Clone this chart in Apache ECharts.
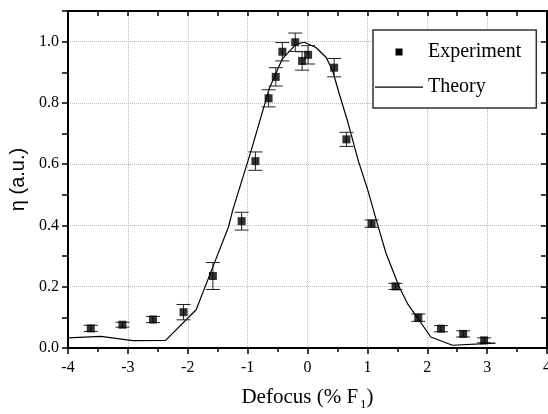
<!DOCTYPE html>
<html>
<head>
<meta charset="utf-8">
<script src="https://cdn.jsdelivr.net/npm/echarts@6/dist/echarts.min.js"></script>
<style>
  html, body { margin: 0; padding: 0; background: #fff; }
  #chart { width: 548px; height: 414px; }
</style>
</head>
<body>
<div id="chart"></div>
<script>
// experiment: defocus (% F1), efficiency, error
const expX = [-3.62, -3.09, -2.58, -2.07, -1.58, -1.10, -0.87, -0.65, -0.53, -0.42, -0.205,
  -0.09, 0.01, 0.445, 0.65, 1.07, 1.47, 1.85, 2.23, 2.60, 2.95]
const expY = [0.064, 0.076, 0.093, 0.117, 0.235, 0.414, 0.61, 0.815, 0.885, 0.967, 0.998,
  0.937, 0.957, 0.915, 0.681, 0.406, 0.201, 0.099, 0.063, 0.046, 0.025]
const expErr = [0.01, 0.008, 0.01, 0.025, 0.044, 0.029, 0.03, 0.028, 0.03, 0.03, 0.03,
  0.03, 0.03, 0.03, 0.023, 0.012, 0.01, 0.012, 0.01, 0.01, 0.008]

// theory curve
const theoryX = [-4.0, -3.45, -2.92, -2.37, -1.86, -1.6, -1.32, -1.25, -0.94, -0.64, -0.42,
  -0.19, -0.05, 0.14, 0.31, 0.42, 0.53, 0.67, 0.85, 1.0, 1.16, 1.31, 1.53, 1.67, 2.06, 2.42, 3.14]
const theoryY = [0.033, 0.038, 0.024, 0.025, 0.125, 0.255, 0.395, 0.449, 0.645, 0.846, 0.944,
  0.992, 0.998, 0.981, 0.949, 0.905, 0.83, 0.74, 0.61, 0.52, 0.41, 0.31, 0.20, 0.145, 0.036, 0.009, 0.016]

const serif = 'Liberation Serif'
const sans = 'Liberation Sans'

const expData = expX.map((x, i) => [x, expY[i]])
const errData = expX.map((x, i) => [x, expY[i] - expErr[i], expY[i] + expErr[i]])
const theoryData = theoryX.map((x, i) => [x, theoryY[i]])

const chart = echarts.init(document.getElementById('chart'), null, { renderer: 'canvas' })

const axisLine = { show: true, onZero: false, lineStyle: { color: '#000', width: 2 } }
const dotted = { show: true, lineStyle: { color: '#bbb', type: 'dotted', width: 1 } }

chart.setOption({
  animation: false,
  backgroundColor: '#fff',
  grid: { left: 68, right: 1, top: 11, bottom: 66, outerBoundsMode: 'none' },
  legend: {
    orient: 'vertical',
    left: 373,
    top: 30,
    padding: [12, 15, 11, 2],
    itemGap: 15,
    itemWidth: 48,
    itemHeight: 12,
    borderColor: '#333',
    borderWidth: 1.5,
    backgroundColor: '#fff',
    textStyle: { fontFamily: serif, fontSize: 20, color: '#000' },
    data: [
      { name: 'Experiment', icon: 'path://M0,0M48,12M20.5,2.5h7v7h-7z' },
      { name: 'Theory', icon: 'path://M0,0M48,12M0,5.5h48v1.2h-48z' },
    ],
  },
  xAxis: [
    {
      type: 'value',
      position: 'bottom',
      min: -4,
      max: 4,
      interval: 1,
      axisLine,
      axisTick: { show: true, inside: false, length: 6, lineStyle: { color: '#000', width: 1.5 } },
      minorTick: { show: true, splitNumber: 2, length: 4, lineStyle: { color: '#000', width: 1.5 } },
      axisLabel: {
        color: '#000', fontFamily: serif, fontSize: 16, margin: 12,
        showMinLabel: true, showMaxLabel: true,
      },
      splitLine: dotted,
      name: 'Defocus (% F{sub|1})',
      nameLocation: 'middle',
      nameGap: 36,
      nameTextStyle: {
        color: '#000', fontFamily: serif, fontSize: 21,
        rich: { sub: { fontFamily: serif, fontSize: 13, color: '#000', padding: [14, 0, 0, 2] } },
      },
    },
    {
      type: 'value',
      position: 'top',
      min: -4,
      max: 4,
      interval: 1,
      axisLine,
      axisTick: { show: true, inside: true, length: 5, lineStyle: { color: '#000', width: 1.5 } },
      minorTick: { show: true, splitNumber: 2, length: 5, lineStyle: { color: '#000', width: 1.5 } },
      axisLabel: { show: false },
      splitLine: { show: false },
    },
  ],
  yAxis: [
    {
      type: 'value',
      position: 'left',
      min: 0,
      max: 1.1,
      interval: 0.1,
      axisLine,
      axisTick: { show: true, inside: false, length: 6, lineStyle: { color: '#000', width: 1.5 } },
      axisLabel: {
        color: '#000', fontFamily: serif, fontSize: 16, margin: 9,
        formatter: v => (Math.round(v * 10) % 2 === 0 ? v.toFixed(1) : ''),
      },
      splitLine: { show: false },
      name: 'η (a.u.)',
      nameLocation: 'middle',
      nameGap: 38,
      nameTextStyle: { color: '#000', fontFamily: sans, fontSize: 20 },
    },
    {
      type: 'value',
      position: 'right',
      min: 0,
      max: 1.1,
      interval: 0.1,
      axisLine,
      axisTick: { show: true, inside: true, length: 6, lineStyle: { color: '#000', width: 1.5 } },
      axisLabel: { show: false },
      splitLine: { show: false },
    },
    {
      // only for the dotted grid at 0.2 steps
      type: 'value',
      position: 'left',
      min: 0,
      max: 1.1,
      interval: 0.2,
      axisLine: { show: false },
      axisTick: { show: false },
      axisLabel: { show: false },
      splitLine: dotted,
    },
  ],
  series: [
    {
      name: 'Theory',
      type: 'line',
      data: theoryData,
      showSymbol: false,
      symbol: 'none',
      lineStyle: { color: '#000', width: 1.2 },
      itemStyle: { color: '#000' },
      z: 3,
    },
    {
      name: 'Experiment',
      type: 'custom',
      data: errData,
      renderItem(params, api) {
        const x = api.value(0)
        const lo = api.coord([x, api.value(1)])
        const hi = api.coord([x, api.value(2)])
        const half = 7
        const style = { stroke: '#222', lineWidth: 1 }
        return {
          type: 'group',
          children: [
            { type: 'line', shape: { x1: lo[0], y1: lo[1], x2: hi[0], y2: hi[1] }, style },
            { type: 'line', shape: { x1: lo[0] - half, y1: lo[1], x2: lo[0] + half, y2: lo[1] }, style },
            { type: 'line', shape: { x1: hi[0] - half, y1: hi[1], x2: hi[0] + half, y2: hi[1] }, style },
          ],
        }
      },
      itemStyle: { color: '#000' },
      z: 4,
    },
    {
      name: 'Experiment',
      type: 'scatter',
      data: expData,
      symbol: 'rect',
      symbolSize: 8,
      itemStyle: { color: '#000' },
      z: 5,
    },
  ],
})
</script>
</body>
</html>
